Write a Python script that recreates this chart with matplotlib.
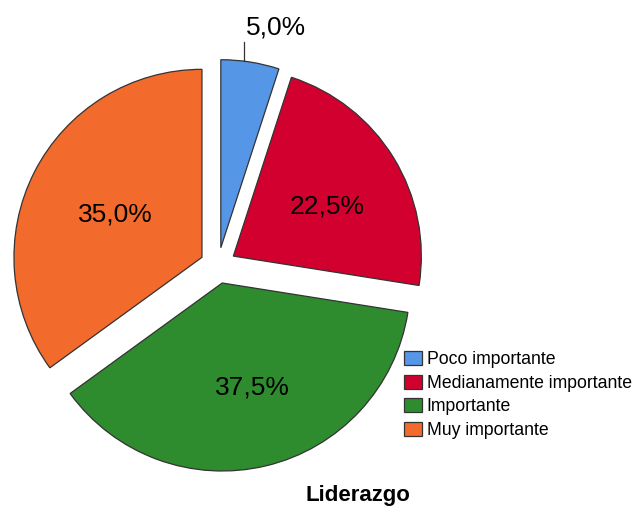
import numpy as np
import matplotlib
matplotlib.use("Agg")
import matplotlib.pyplot as plt

plt.rcParams['font.family'] = ['Liberation Sans', 'DejaVu Sans']

categories = ["Poco importante", "Medianamente importante", "Importante", "Muy importante"]
values = [5.0, 22.5, 37.5, 35.0]
colors = ["#5596E6", "#D2002F", "#2E8B2E", "#F26A2C"]
title = "Liderazgo"

W, H = 636, 513
R_PX = 188.0
CX, CY = 218.0, 265.5
EXPL = 18.0 / R_PX

fig = plt.figure(figsize=(W / 100, H / 100), dpi=100)
ax = fig.add_axes([0, 0, 1, 1])

def fmt(p):
    return '' if p < 10 else f'{p:.1f}%'.replace('.', ',')

wedges, texts, autotexts = ax.pie(
    values, colors=colors, startangle=90, counterclock=False,
    explode=[EXPL] * len(values), radius=1.0,
    autopct=fmt, pctdistance=0.55,
    wedgeprops=dict(edgecolor='#333333', linewidth=0.9),
    textprops=dict(fontsize=19, color='black'))

# nudge percentage labels slightly (pixels -> data units)
for t in autotexts:
    x, y = t.get_position()
    t.set_position((x + 6 / R_PX, y - 4 / R_PX))

ax.set_xlim(-CX / R_PX, (W - CX) / R_PX)
ax.set_ylim(-(H - CY) / R_PX, CY / R_PX)
ax.set_aspect('equal')
ax.axis('off')

# small slice label with leader line
w0 = wedges[0]
cx0, cy0 = w0.center
ang = np.deg2rad(83)
ax0 = cx0 + np.cos(ang)
ay0 = cy0 + np.sin(ang)
ax.plot([ax0, ax0], [ay0, ay0 + 0.10], color='#333333', lw=0.9)
ax.text(ax0 + 0.01, ay0 + 0.14, f'{values[0]:.1f}%'.replace('.', ','),
        fontsize=19, ha='left', va='baseline')

fig.legend(wedges, categories, loc='upper left',
           bbox_to_anchor=(404 / W, 1 - 351 / H), frameon=False,
           fontsize=12.7, handlelength=1.02, handleheight=0.87,
           handletextpad=0.26, labelspacing=0.36, borderpad=0, borderaxespad=0)

fig.text(358 / W, 1 - 495 / H, title, ha='center', va='center',
         fontsize=16, fontweight='bold')

fig.savefig('out.png', dpi=100)
